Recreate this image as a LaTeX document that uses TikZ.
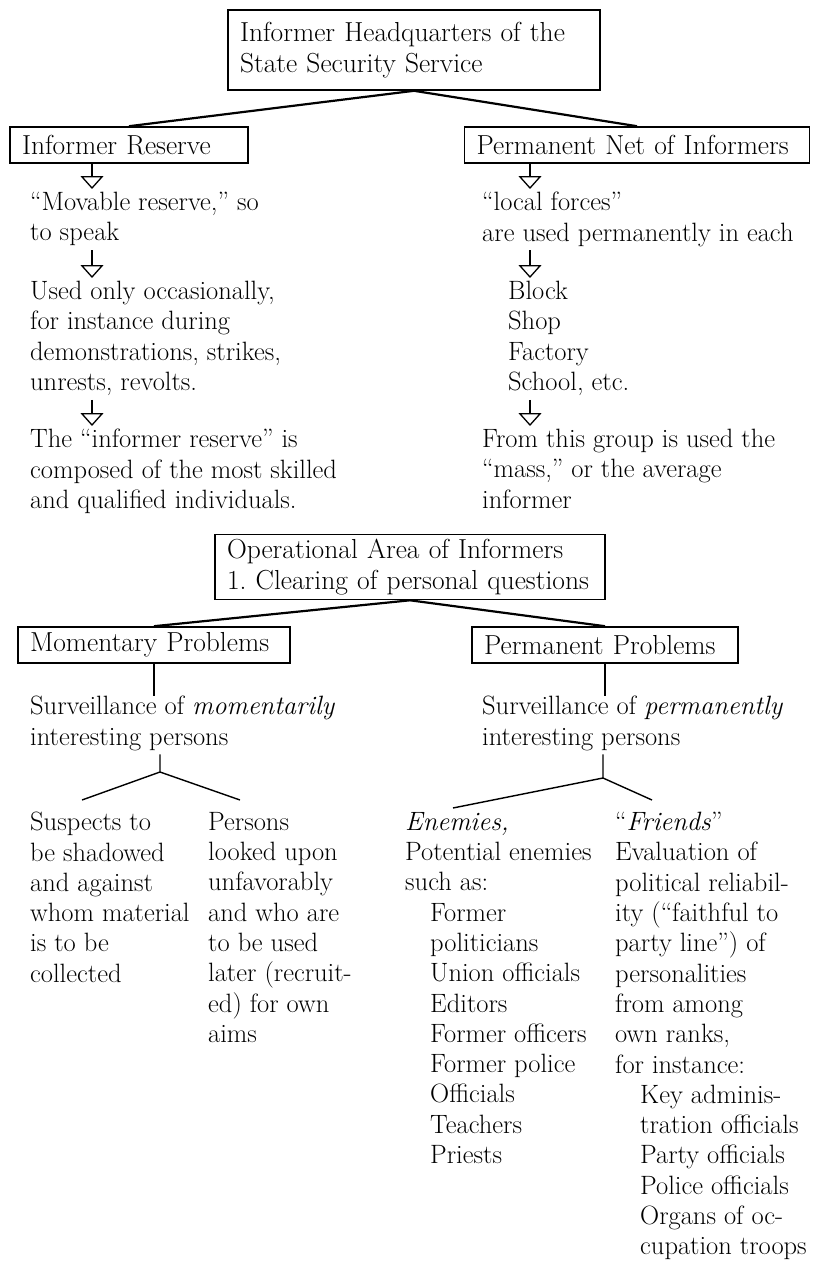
\documentclass[tikz,border=0pt]{standalone}
\usepackage{fontspec}
\usetikzlibrary{arrows.meta}
\newcommand{\indline}{\hspace*{25pt}}
\frenchspacing
\begin{document}
\begin{tikzpicture}[x=1pt, y=-1pt, font=\fontsize{26.5}{30.3}\selectfont,
    box/.style={draw, rectangle, line width=1.6pt, align=left, inner xsep=12pt, inner ysep=0pt,
                font=\fontsize{27.5}{31}\selectfont},
    txt/.style={anchor=north west, align=left, inner sep=0pt, execute at begin node=\strut},
    hollow/.style={line width=1.3pt, -{Triangle[open, width=23pt, length=13pt, line width=1.3pt]}, shorten >=3pt},
    link/.style={line width=2.2pt},
    stem/.style={line width=1.4pt}]
    \useasboundingbox (0,0) rectangle (812,1277);

    % upper tree
    \node (hq) [box, text width=348pt, minimum height=80pt] at (414,50) {Informer Headquarters of the\\State Security Service};
    \node (ires) [box, text width=214pt, minimum height=36pt] at (129,145) {Informer Reserve};
    \node (pnet) [box, text width=321pt, minimum height=36pt] at (637,145) {Permanent Net of Informers};

    \draw[link] (hq.south) -- (ires.north);
    \draw[link] (hq.south) -- (pnet.north);

    \node (mov) [txt] at (30,192) {“Movable reserve,” so\\to speak};
    \node (used) [txt] at (30,281) {Used only occasionally,\\for instance during\\demonstrations, strikes,\\unrests, revolts.};
    \node (comp) [txt] at (30,429) {The “informer reserve” is\\composed of the most skilled\\and qualified individuals.};

    \node (loc) [txt] at (482,192) {“local forces”\\are used permanently in each};
    \node (blk) [txt] at (508,281) {Block\\Shop\\Factory\\School, etc.};
    \node (mass) [txt] at (482,429) {From this group is used the\\“mass,” or the average\\informer};

    \coordinate (la) at (92,0);
    \coordinate (ra) at (530,0);
    \draw[hollow] (ires.south -| la) -- (mov.north -| la);
    \draw[hollow] (mov.south -| la) -- (used.north -| la);
    \draw[hollow] (used.south -| la) -- (comp.north -| la);
    \draw[hollow] (pnet.south -| ra) -- (loc.north -| ra);
    \draw[hollow] (loc.south -| ra) -- (blk.north -| ra);
    \draw[hollow] (blk.south -| ra) -- (mass.north -| ra);

    % lower tree
    \node (oper) [box, text width=366pt, minimum height=65pt] at (410,567) {Operational Area of Informers\\1. Clearing of personal questions};
    \node (mom) [box, text width=248pt, minimum height=36pt] at (154,645) {Momentary Problems};
    \node (perm) [box, text width=242pt, minimum height=36pt] at (605,645) {Permanent Problems};

    \draw[link] (oper.south) -- (mom.north);
    \draw[link] (oper.south) -- (perm.north);

    \node (lsurv) [txt] at (30,696) {Surveillance of \textit{momentarily}\\interesting persons};
    \node (rsurv) [txt] at (482,696) {Surveillance of \textit{permanently}\\interesting persons};

    \draw[stem] (mom.south) -- (lsurv.north -| mom.south);
    \draw[stem] (perm.south) -- (rsurv.north -| perm.south);

    \node (susp) [txt] at (30,812) {Suspects to\\be shadowed\\and against\\whom material\\is to be\\collected};
    \node (pers) [txt] at (208,812) {Persons\\looked upon\\unfavorably\\and who are\\to be used\\later (recruit-\\ed) for own\\aims};
    \node (enem) [txt] at (405,812) {\textit{Enemies,}\\Potential enemies\\such as:\\\indline Former\\\indline politicians\\\indline Union officials\\\indline Editors\\\indline Former officers\\\indline Former police\\\indline Officials\\\indline Teachers\\\indline Priests};
    \node (frnd) [txt] at (615,812) {“\textit{Friends}”\\Evaluation of\\political reliabil-\\ity (“faithful to\\party line”) of\\personalities\\from among\\own ranks,\\for instance:\\\indline Key adminis-\\\indline tration officials\\\indline Party officials\\\indline Police officials\\\indline Organs of oc-\\\indline cupation troops};

    % forks
    \coordinate (lfork) at (160,772);
    \coordinate (lf1) at (82,800);
    \coordinate (lf2) at (240,800);
    \coordinate (rfork) at (603,778);
    \coordinate (rf1) at (453,808);
    \coordinate (rf2) at (652,800);
    \draw[stem] (lsurv.south -| lfork) -- (lfork) -- (lf1);
    \draw[stem] (lfork) -- (lf2);
    \draw[stem] (rsurv.south -| rfork) -- (rfork) -- (rf1);
    \draw[stem] (rfork) -- (rf2);
\end{tikzpicture}
\end{document}
